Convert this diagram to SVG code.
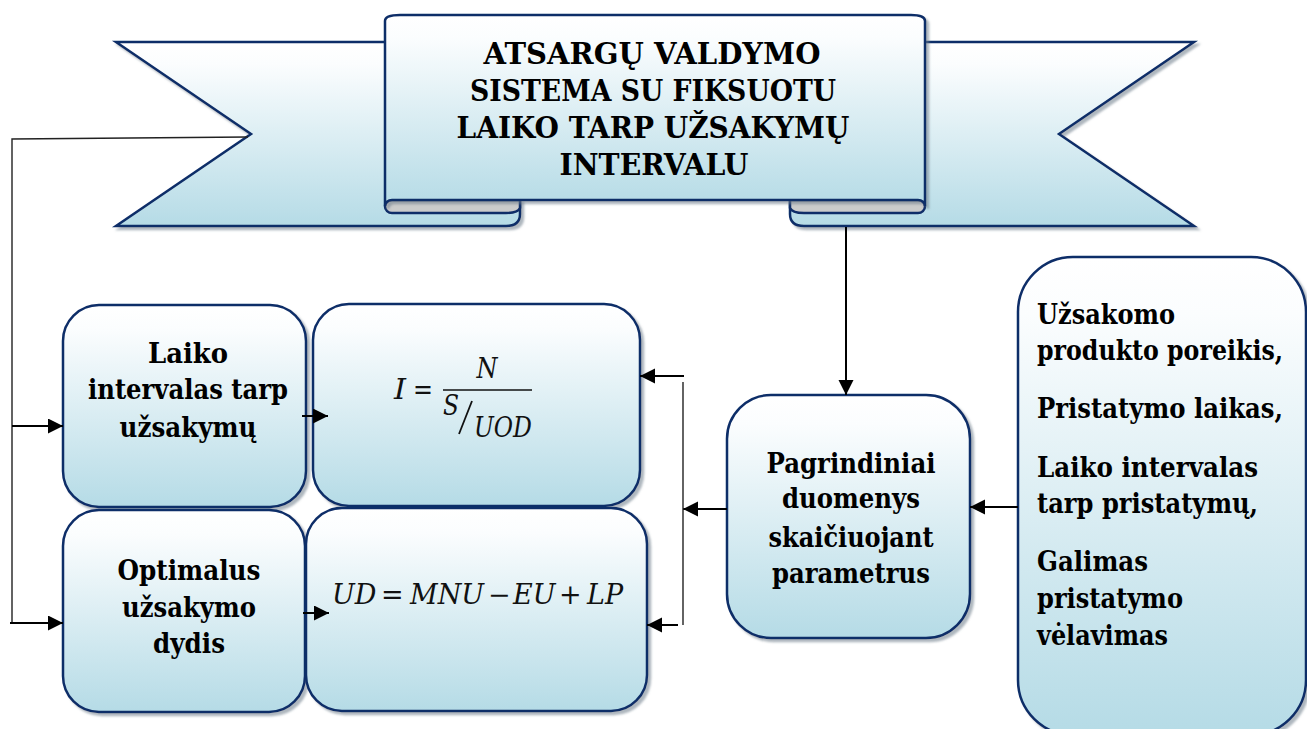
<svg xmlns="http://www.w3.org/2000/svg" width="1307" height="729" viewBox="0 0 1307 729">
  <defs>
    <linearGradient id="fillBlue" x1="0" y1="0" x2="0" y2="1">
      <stop offset="0" stop-color="#ffffff"/>
      <stop offset="0.12" stop-color="#fbfdfe"/>
      <stop offset="1" stop-color="#b5dbe6"/>
    </linearGradient>
    <filter id="shadow" x="-5%" y="-5%" width="115%" height="115%">
      <feDropShadow dx="3" dy="3" stdDeviation="1.2" flood-color="#6d7c88" flood-opacity="0.55"/>
    </filter>
    <marker id="arrow" markerUnits="userSpaceOnUse" markerWidth="16" markerHeight="16" refX="15" refY="7.5" orient="auto">
      <path d="M0,0 L15,7.5 L0,15 Z" fill="#000"/>
    </marker>
  </defs>
  <style>
    .shape { fill: url(#fillBlue); stroke: #0f2d68; stroke-width: 2.5; }
    .fold { fill: #cbcbcb; stroke: #0f2d68; stroke-width: 2.5; }
    text { font-family: "DejaVu Serif", serif; }
    .label { font-weight: bold; font-size: 28px; fill: #000; }
    .title { font-weight: bold; font-size: 29px; fill: #000; text-anchor: middle; }
    .mid { text-anchor: middle; }
    .math { font-style: italic; font-size: 27px; fill: #111; }
    .op { font-style: normal; }
    .conn { fill: none; stroke: #000; stroke-width: 2; }
    .thin { fill: none; stroke: #222; stroke-width: 1.4; }
  </style>

  <!-- Title ribbon -->
  <g id="title-ribbon">
    <g filter="url(#shadow)">
      <path class="shape" d="M116,42 H400 V200 H520 V214 Q520,226 506,226 H116 L251,134 Z"/>
      <path class="shape" d="M1194,42 H910 V200 H790 V214 Q790,226 804,226 H1194 L1059,134 Z"/>
    </g>
    <path class="fold" d="M520,200 H392 A7,6.5 0 0 0 392,213 H506 Q518,213 520,208 Z"/>
    <path class="fold" d="M790,200 H918 A7,6.5 0 0 1 918,213 H804 Q792,213 790,208 Z"/>
    <path class="shape" filter="url(#shadow)" d="M385,206 V21 Q385,15 400,15 H911 Q925,15 925,21 V206 A7,6 0 0 0 918,200 H392 A7,6 0 0 0 385,206 Z"/>
    <text class="title" x="652" y="64" textLength="337" lengthAdjust="spacingAndGlyphs">ATSARGŲ VALDYMO</text>
    <text class="title" x="653" y="101" textLength="366" lengthAdjust="spacingAndGlyphs">SISTEMA SU FIKSUOTU</text>
    <text class="title" x="653" y="138" textLength="393" lengthAdjust="spacingAndGlyphs">LAIKO TARP UŽSAKYMŲ</text>
    <text class="title" x="654" y="175" textLength="189" lengthAdjust="spacingAndGlyphs">INTERVALU</text>
  </g>

  <!-- Interval between orders -->
  <g id="interval-box">
    <rect class="shape" filter="url(#shadow)" x="63" y="305" width="243" height="202" rx="36"/>
    <text class="label mid" x="188" y="363" textLength="80" lengthAdjust="spacingAndGlyphs">Laiko</text>
    <text class="label mid" x="188" y="399" textLength="200" lengthAdjust="spacingAndGlyphs">intervalas tarp</text>
    <text class="label mid" x="188" y="437" textLength="137" lengthAdjust="spacingAndGlyphs">užsakymų</text>
  </g>

  <!-- Optimal order size -->
  <g id="order-size-box">
    <rect class="shape" filter="url(#shadow)" x="63" y="510" width="242" height="202" rx="36"/>
    <text class="label mid" x="189" y="580" textLength="143" lengthAdjust="spacingAndGlyphs">Optimalus</text>
    <text class="label mid" x="189" y="617" textLength="134" lengthAdjust="spacingAndGlyphs">užsakymo</text>
    <text class="label mid" x="189" y="653" textLength="72" lengthAdjust="spacingAndGlyphs">dydis</text>
  </g>

  <!-- Interval formula: I = N / (S/UOD) -->
  <g id="interval-formula">
    <rect class="shape" filter="url(#shadow)" x="313" y="304" width="327" height="202" rx="36"/>
    <text class="math" x="394" y="399" textLength="12" lengthAdjust="spacingAndGlyphs">I</text>
    <text class="math op" x="413" y="399" textLength="20" lengthAdjust="spacingAndGlyphs">=</text>
    <line x1="443" y1="390" x2="532" y2="390" stroke="#111" stroke-width="1.6"/>
    <text class="math mid" x="487" y="378" textLength="21" lengthAdjust="spacingAndGlyphs">N</text>
    <text class="math" x="443" y="415" textLength="16" lengthAdjust="spacingAndGlyphs">S</text>
    <line x1="459" y1="434" x2="472" y2="401" stroke="#111" stroke-width="1.8"/>
    <text class="math" x="474" y="437" textLength="58" lengthAdjust="spacingAndGlyphs">UOD</text>
  </g>

  <!-- Order size formula: UD = MNU − EU + LP, one text per token -->
  <g id="order-size-formula">
    <rect class="shape" filter="url(#shadow)" x="306" y="508" width="341" height="203" rx="36"/>
    <text class="math" x="332" y="604">UD</text>
    <text class="math op" x="381" y="604">=</text>
    <text class="math" x="410" y="604">MNU</text>
    <text class="math op" x="488" y="604">−</text>
    <text class="math" x="513" y="604">EU</text>
    <text class="math op" x="559" y="604">+</text>
    <text class="math" x="587" y="604">LP</text>
  </g>

  <!-- Base data for the calculation -->
  <g id="base-data-box">
    <rect class="shape" filter="url(#shadow)" x="727" y="395" width="243" height="243" rx="44"/>
    <text class="label mid" x="851" y="473" textLength="169" lengthAdjust="spacingAndGlyphs">Pagrindiniai</text>
    <text class="label mid" x="851" y="508" textLength="138" lengthAdjust="spacingAndGlyphs">duomenys</text>
    <text class="label mid" x="851" y="547" textLength="165" lengthAdjust="spacingAndGlyphs">skaičiuojant</text>
    <text class="label mid" x="851" y="583" textLength="158" lengthAdjust="spacingAndGlyphs">parametrus</text>
  </g>

  <!-- Input parameters -->
  <g id="inputs-box">
    <rect class="shape" filter="url(#shadow)" x="1018" y="257" width="288" height="478" rx="55"/>
    <text class="label" x="1037" y="324" textLength="138" lengthAdjust="spacingAndGlyphs">Užsakomo</text>
    <text class="label" x="1037" y="360" font-size="23" textLength="246" lengthAdjust="spacingAndGlyphs">produkto poreikis,</text>
    <text class="label" x="1037" y="418" font-size="23" textLength="246" lengthAdjust="spacingAndGlyphs">Pristatymo laikas,</text>
    <text class="label" x="1037" y="477" textLength="221" lengthAdjust="spacingAndGlyphs">Laiko intervalas</text>
    <text class="label" x="1037" y="513" textLength="221" lengthAdjust="spacingAndGlyphs">tarp pristatymų,</text>
    <text class="label" x="1037" y="571" textLength="111" lengthAdjust="spacingAndGlyphs">Galimas</text>
    <text class="label" x="1037" y="608" textLength="146" lengthAdjust="spacingAndGlyphs">pristatymo</text>
    <text class="label" x="1037" y="645" textLength="131" lengthAdjust="spacingAndGlyphs">vėlavimas</text>
  </g>

  <!-- Connectors -->
  <g id="connectors">
    <polyline class="thin" points="248,137 12,139 12,623"/>
    <line class="conn" x1="12" y1="426" x2="63" y2="426" marker-end="url(#arrow)"/>
    <line class="conn" x1="10" y1="623" x2="63" y2="623" marker-end="url(#arrow)"/>
    <line class="conn" x1="302" y1="416" x2="328" y2="416" marker-end="url(#arrow)"/>
    <line class="conn" x1="303" y1="613" x2="329" y2="613" marker-end="url(#arrow)"/>
    <line class="conn" x1="846" y1="227" x2="846" y2="395" marker-end="url(#arrow)"/>
    <line class="conn" x1="1018" y1="507" x2="970" y2="507" marker-end="url(#arrow)"/>
    <line class="conn" x1="727" y1="509" x2="683" y2="509" marker-end="url(#arrow)"/>
    <line class="thin" x1="683" y1="382" x2="683" y2="625"/>
    <line class="conn" x1="684" y1="376" x2="640" y2="376" marker-end="url(#arrow)"/>
    <line class="conn" x1="678" y1="625" x2="647" y2="625" marker-end="url(#arrow)"/>
  </g>
</svg>
